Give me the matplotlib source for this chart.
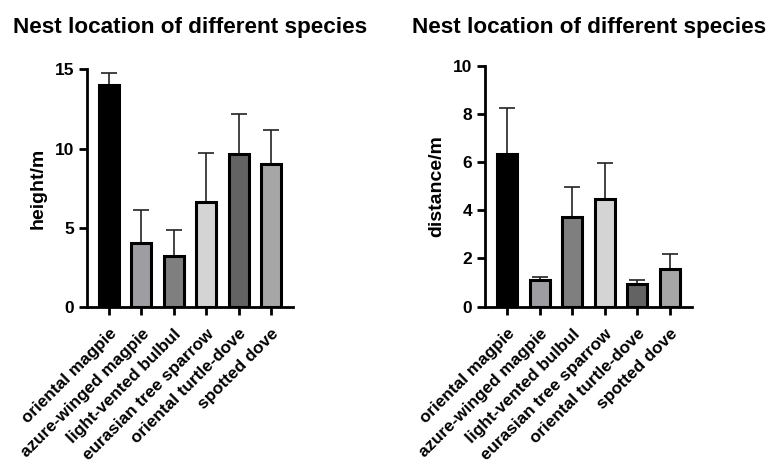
import numpy as np
import matplotlib.pyplot as plt

species = ['oriental magpie', 'azure-winged magpie', 'light-vented bulbul',
           'eurasian tree sparrow', 'oriental turtle-dove', 'spotted dove']
height_mean = [14.0, 4.05, 3.2, 6.65, 9.65, 9.0]
height_sd = [0.8, 2.05, 1.65, 3.1, 2.55, 2.2]
dist_mean = [6.32, 1.1, 3.73, 4.46, 0.93, 1.56]
dist_sd = [1.91, 0.15, 1.22, 1.51, 0.17, 0.61]
colors = ['#000000', '#9e9ea2', '#7f7f7f', '#d4d4d4', '#636363', '#a6a6a6']

plt.rcParams['font.family'] = ['Liberation Sans', 'DejaVu Sans']
plt.rcParams['font.weight'] = 'bold'

fig = plt.figure(figsize=(7.73, 4.63), dpi=100)
ax1 = fig.add_axes([0.1125, 0.3376, 0.2665, 0.5123])
ax2 = fig.add_axes([0.6274, 0.3376, 0.2678, 0.5205])


def draw(ax, mean, sd, ymax, step, ylabel):
    x = np.arange(len(species))
    ax.bar(x, mean, width=0.62, color=colors, edgecolor='black', linewidth=2.2, zorder=2)
    ax.errorbar(x, mean, yerr=[np.zeros(len(sd)), sd], fmt='none', ecolor='#222222',
                elinewidth=1.2, capsize=5.5, capthick=1.2, zorder=1)
    ax.set_xlim(-0.68, 5.68)
    ax.set_ylim(0, ymax)
    ax.set_yticks(np.arange(0, ymax + 0.1, step))
    ax.set_xticks(x)
    ax.set_xticklabels(species, rotation=45, ha='right', rotation_mode='anchor',
                       fontsize=12.3, fontweight='bold')
    for lab in ax.get_yticklabels():
        lab.set_fontsize(12.5)
        lab.set_fontweight('bold')
    ax.set_ylabel(ylabel, fontsize=14, fontweight='bold', labelpad=6)
    ax.spines['top'].set_visible(False)
    ax.spines['right'].set_visible(False)
    ax.spines['left'].set_linewidth(2)
    ax.spines['bottom'].set_linewidth(2)
    ax.tick_params(axis='y', width=2, length=6, pad=3)
    ax.tick_params(axis='x', width=2, length=6, pad=8)


draw(ax1, height_mean, height_sd, 15, 5, 'height/m')
draw(ax2, dist_mean, dist_sd, 10, 2, 'distance/m')

fig.text(190.5 / 773, 0.9287, 'Nest location of different species', ha='center', va='baseline',
         fontsize=16.2, fontweight='bold')
fig.text(589 / 773, 0.9287, 'Nest location of different species', ha='center', va='baseline',
         fontsize=16.2, fontweight='bold')

fig.savefig('out.png', dpi=100)
